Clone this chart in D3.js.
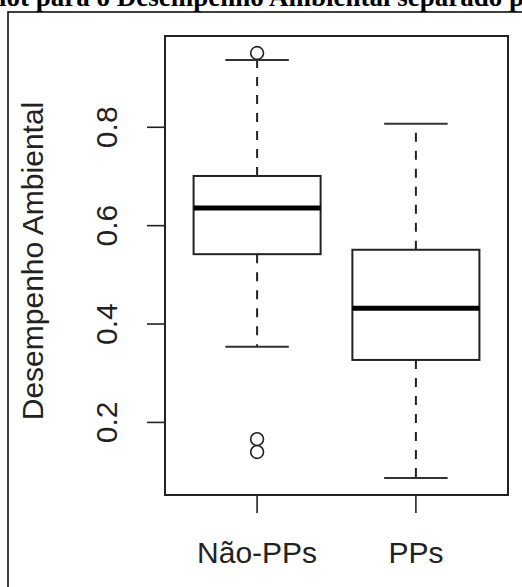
<!DOCTYPE html>
<html><head><meta charset="utf-8">
<script src="https://cdn.jsdelivr.net/npm/d3@7"></script>
<style>html,body{margin:0;padding:0;background:#fff;overflow:hidden}</style>
</head><body>
<script>
const categories = ["Não-PPs", "PPs"];
const lowerWhisker = [0.354, 0.087];
const q1 = [0.542, 0.327];
const median = [0.636, 0.432];
const q3 = [0.701, 0.551];
const upperWhisker = [0.937, 0.807];
const outliers = [[0.951, 0.166, 0.140], []];
const yTicks = [0.2, 0.4, 0.6, 0.8];
const titleText = "Boxplot para o Desempenho Ambiental separado por grupo";
const yLabel = "Desempenho Ambiental";

const W = 522, H = 587;
const svg = d3.select("body").append("svg").attr("width", W).attr("height", H);

// outer frame
svg.append("path").attr("d", `M8,${H} L8,12 L${W},12`).attr("fill","none").attr("stroke","#000").attr("stroke-width",1.5);

// title (clipped at the top edge, as in the reference)
const title = svg.append("text").attr("y", 6)
  .attr("font-family","Liberation Serif, Times New Roman, serif").attr("font-weight","bold")
  .attr("font-size", 27).attr("fill","#000").text(titleText);
const probe = svg.append("text").attr("font-family","Liberation Serif, serif").attr("font-weight","bold")
  .attr("font-size",27).text("Boxp");
const pw = probe.node().getComputedTextLength();
probe.remove();
title.attr("x", -1 - pw);

const L = 165, R = 508, T = 36, B = 495;
const allVals = [].concat(lowerWhisker, upperWhisker, ...outliers);
const lo = d3.min(allVals), hi = d3.max(allVals), ext = (hi - lo) * 0.04;
const y = d3.scaleLinear().domain([lo - ext, hi + ext]).range([B, T]);
const n = categories.length;
const x = d3.scaleLinear().domain([0.5 - n*0.04, n + 0.5 + n*0.04]).range([L, R]);

const stroke = "#222";
const g = svg.append("g");
categories.forEach((c, i) => {
  const cx = x(i + 1), hw = x(1.4) - x(1), sw = x(1.2) - x(1);
  g.append("line").attr("x1",cx).attr("x2",cx).attr("y1",y(q3[i])).attr("y2",y(upperWhisker[i]))
    .attr("stroke",stroke).attr("stroke-width",2).attr("stroke-dasharray","9,9");
  g.append("line").attr("x1",cx).attr("x2",cx).attr("y1",y(q1[i])).attr("y2",y(lowerWhisker[i]))
    .attr("stroke",stroke).attr("stroke-width",2).attr("stroke-dasharray","9,9");
  [upperWhisker[i], lowerWhisker[i]].forEach(v => {
    g.append("line").attr("x1",cx - sw).attr("x2",cx + sw).attr("y1",y(v)).attr("y2",y(v))
      .attr("stroke","#333").attr("stroke-width",2);
  });
  g.append("rect").attr("x",cx - hw).attr("y",y(q3[i])).attr("width",2*hw).attr("height",y(q1[i]) - y(q3[i]))
    .attr("fill","#fff").attr("stroke",stroke).attr("stroke-width",2);
  g.append("line").attr("x1",cx - hw).attr("x2",cx + hw).attr("y1",y(median[i])).attr("y2",y(median[i]))
    .attr("stroke","#000").attr("stroke-width",5);
  outliers[i].forEach(v => {
    g.append("circle").attr("cx",cx).attr("cy",y(v)).attr("r",6.4)
      .attr("fill","none").attr("stroke",stroke).attr("stroke-width",1.6);
  });
});

svg.append("rect").attr("x",L).attr("y",T).attr("width",R-L).attr("height",B-T)
  .attr("fill","none").attr("stroke","#222").attr("stroke-width",2);

const font = "Liberation Sans, Arial, sans-serif";
yTicks.forEach(t => {
  svg.append("line").attr("x1",147).attr("x2",L).attr("y1",y(t)).attr("y2",y(t)).attr("stroke","#222").attr("stroke-width",1.6);
  svg.append("text").attr("transform",`translate(117,${y(t)}) rotate(-90)`).attr("text-anchor","middle")
    .attr("font-family",font).attr("font-size",30).attr("fill","#222").text(t.toFixed(1));
});
svg.append("line").attr("x1",L).attr("x2",L).attr("y1",y(yTicks[0])).attr("y2",y(yTicks[yTicks.length-1])).attr("stroke","#222").attr("stroke-width",1.6);

categories.forEach((c, i) => {
  const cx = x(i + 1);
  svg.append("line").attr("x1",cx).attr("x2",cx).attr("y1",B).attr("y2",513).attr("stroke","#222").attr("stroke-width",1.6);
  svg.append("text").attr("x",cx).attr("y",563).attr("text-anchor","middle")
    .attr("font-family",font).attr("font-size",30).attr("fill","#222").text(c);
});

svg.append("text").attr("transform",`translate(43,261) rotate(-90)`).attr("text-anchor","middle")
  .attr("font-family",font).attr("font-size",30).attr("fill","#222").text(yLabel);
</script>
</body></html>
